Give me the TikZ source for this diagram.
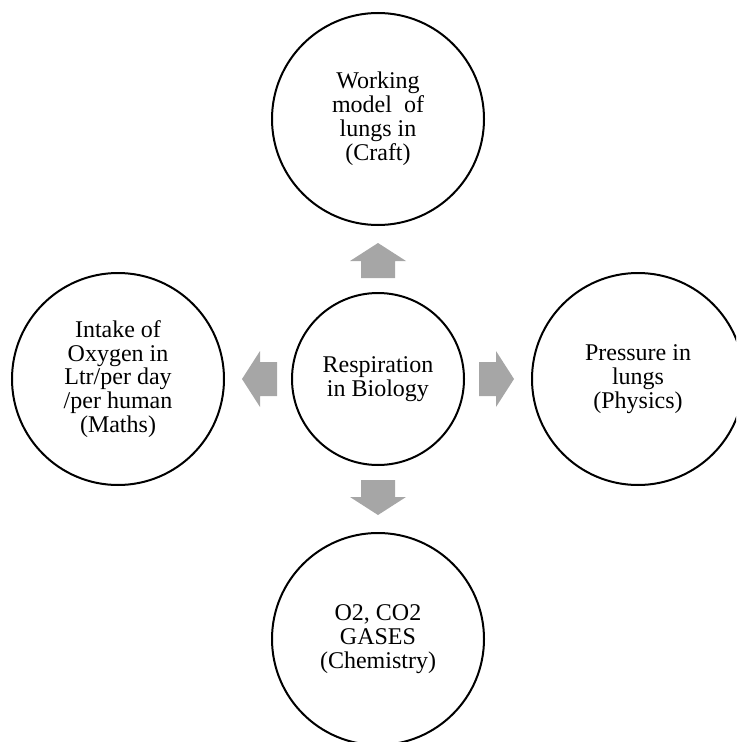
\documentclass[tikz,border=0pt]{standalone}
\usepackage{fontspec}
\setmainfont{Liberation Serif}
\definecolor{arrowgray}{RGB}{166,166,166}
\begin{document}
\begin{tikzpicture}[x=0.75pt,y=-0.75pt,
  topic/.style={circle,draw=black,line width=1.5pt,minimum size=159pt,
    inner sep=0pt,align=center,font=\fontsize{18}{17.9}\selectfont},
  hub/.style={topic,minimum size=129pt},
  blockarrow/.style={fill=arrowgray,draw=none}]
\useasboundingbox (0,0) rectangle (736,742);
\clip (0,0) rectangle (736,742);

% central topic and the four subject circles around it
\node[hub]   (bio)  at (378,379) {Respiration\\in Biology};
\node[topic] (craft) at (378,119) {Working\\model\ \ of\\lungs in\\(Craft)};
\node[topic] (maths) at (118,379) {Intake of\\Oxygen in\\Ltr/per day\\/per human\\(Maths)};
\node[topic] (phys)  at (638,379) {Pressure in\\lungs\\(Physics)};
\node[topic] (chem)  at (378,639) {O2, CO2\\GASES\\(Chemistry)};

% block arrows pointing outward from the central topic
\foreach \a in {0,90,180,270}
  \fill[blockarrow,shift={(bio.center)},rotate=\a]
    (101,-17) -- (118,-17) -- (118,-28) -- (136,0) -- (118,28)
    -- (118,17) -- (101,17) -- cycle;
\end{tikzpicture}
\end{document}
